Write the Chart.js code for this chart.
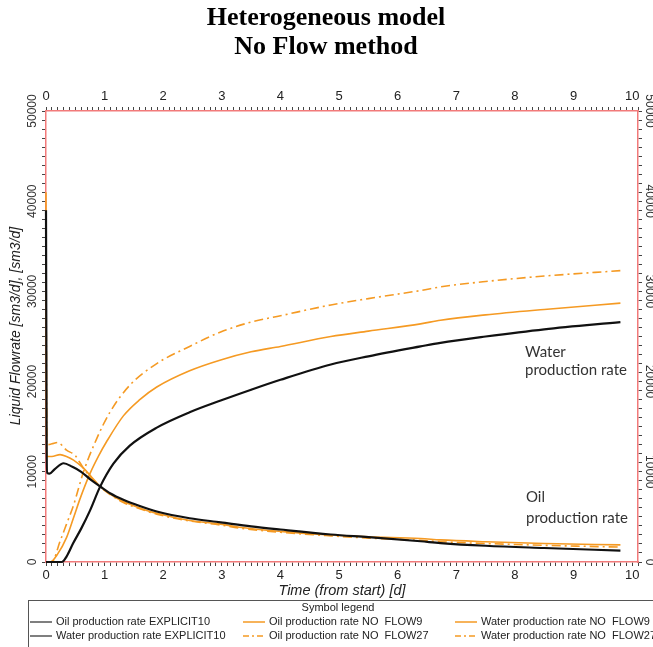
<!DOCTYPE html>
<html>
<head>
<meta charset="utf-8">
<script src="https://cdn.jsdelivr.net/npm/chart.js@4/dist/chart.umd.min.js"></script>
<style>
  body { margin: 0; background: #fff; }
  canvas { display: block; }
</style>
</head>
<body>
<canvas id="chart" width="653" height="647"></canvas>
<script>
// ---- data (time in days, rates in sm3/d) ----
const titleLines = ["Heterogeneous model", "No Flow method"];
const yTicks = [0, 10000, 20000, 30000, 40000, 50000];

const oilExplicitT = [0, 0.01, 0.02, 0.06, 0.15, 0.3, 0.45, 0.6, 0.75, 0.92, 1.1, 1.32, 1.6, 1.89, 2.45, 2.98, 3.5, 4, 4.86, 5.5, 6.39, 6.73, 7.5, 8.5, 9.8];
const oilExplicit  = [39000, 14500, 9900, 9800, 10300, 10950, 10550, 10000, 9200, 8400, 7600, 6900, 6200, 5600, 4850, 4400, 3950, 3600, 3050, 2750, 2300, 2100, 1800, 1550, 1260];

const waterExplicitT = [0, 0.27, 0.35, 0.465, 0.6, 0.75, 0.92, 1.15, 1.43, 1.89, 2.45, 2.98, 3.5, 4, 4.86, 5.5, 6.39, 6.73, 7.5, 8.5, 9.8];
const waterExplicit  = [0, 0, 600, 2100, 3700, 5700, 8300, 10900, 12900, 14900, 16600, 17900, 19100, 20200, 21900, 22800, 23900, 24300, 25000, 25800, 26600];

const oilNF9T = [0, 0.005, 0.015, 0.1, 0.24, 0.35, 0.47, 0.64, 0.78, 0.92, 1.1, 1.32, 1.6, 1.89, 2.45, 2.98, 3.3, 4, 4.86, 5.5, 6.39, 6.73, 7.5, 8.5, 9.8];
const oilNF9  = [41000, 20000, 11700, 11700, 11900, 11700, 11300, 10400, 9400, 8400, 7500, 6700, 6000, 5400, 4600, 4200, 3850, 3400, 3000, 2800, 2600, 2450, 2250, 2050, 1900];

const oilNF27T = [0, 0.005, 0.015, 0.1, 0.2, 0.35, 0.5, 0.58, 0.66, 0.78, 0.92, 1.1, 1.32, 1.6, 1.89, 2.45, 2.98, 3.3, 4, 4.86, 5.5, 6.39, 6.73, 7.5, 8.5, 9.8];
const oilNF27  = [36000, 25000, 13000, 13100, 13250, 12400, 11800, 11000, 10200, 9300, 8350, 7450, 6600, 5900, 5300, 4550, 4100, 3750, 3300, 2900, 2650, 2400, 2250, 2050, 1850, 1650];

const waterNF9T = [0, 0.07, 0.2, 0.35, 0.47, 0.58, 0.75, 0.9, 1.03, 1.32, 1.6, 1.89, 2.45, 2.98, 3.5, 4, 4.86, 5.5, 6.39, 6.73, 7.5, 8.5, 9.8];
const waterNF9  = [0, 0, 900, 2700, 4900, 7000, 9800, 11800, 13300, 16200, 18000, 19400, 21200, 22400, 23300, 23900, 25000, 25600, 26400, 26800, 27400, 28000, 28700];

const waterNF27T = [0, 0.1, 0.24, 0.35, 0.47, 0.64, 0.86, 1.09, 1.43, 1.89, 2.45, 2.98, 3.5, 4, 4.86, 5.5, 6.39, 6.73, 7.5, 8.5, 9.8];
const waterNF27  = [0, 0, 2300, 4200, 6300, 10000, 13600, 16600, 19600, 22000, 23900, 25500, 26600, 27300, 28500, 29200, 30100, 30500, 31100, 31700, 32300];

const seriesNames = [
  "Oil production rate EXPLICIT10",
  "Water production rate EXPLICIT10",
  "Oil production rate NO  FLOW9",
  "Oil production rate NO  FLOW27",
  "Water production rate NO  FLOW9",
  "Water production rate NO  FLOW27"
];

const BLACK = "#111111";
const ORANGE = "#f59a23";
const DASHDOT = [9, 4, 2, 4];

function pts(t, v) {
  return t.map((x, i) => ({ x: x, y: v[i] }));
}

function series(label, t, v, color, width, dash) {
  return {
    label: label,
    data: pts(t, v),
    borderColor: color,
    backgroundColor: color,
    borderWidth: width,
    borderDash: dash || [],
    pointRadius: 0,
    cubicInterpolationMode: "monotone",
    clip: false,
    fill: false
  };
}

// ---- text, axis labels and the boxed legend ----
const textPlugin = {
  id: "texts",
  afterDraw(chart) {
    const ctx = chart.ctx;
    const ys = chart.scales.y;
    ctx.save();
    ctx.textAlign = "center";
    ctx.textBaseline = "middle";

    ctx.fillStyle = "#000";
    ctx.font = 'bold 26px "Liberation Serif"';
    ctx.fillText(titleLines[0], 326, 18);
    ctx.fillText(titleLines[1], 326, 47);

    ctx.fillStyle = "#333";
    ctx.font = '12px "Liberation Sans"';
    yTicks.forEach(v => {
      const py = ys.getPixelForValue(v);
      ctx.save();
      ctx.translate(33, py);
      ctx.rotate(-Math.PI / 2);
      ctx.fillText(String(v), 0, 0);
      ctx.restore();
      ctx.save();
      ctx.translate(649, py);
      ctx.rotate(Math.PI / 2);
      ctx.fillText(String(v), 0, 0);
      ctx.restore();
    });

    ctx.fillStyle = "#222";
    ctx.font = 'italic 14px "Liberation Sans"';
    ctx.save();
    ctx.translate(16, 326);
    ctx.rotate(-Math.PI / 2);
    ctx.fillText("Liquid Flowrate [sm3/d], [sm3/d]", 0, 0);
    ctx.restore();
    ctx.font = 'italic 14.5px "Liberation Sans"';
    ctx.fillText("Time (from start) [d]", 342, 591);

    // annotations
    ctx.textAlign = "left";
    ctx.fillStyle = "#333";
    ctx.font = '15px "Lato"';
    ctx.fillText("Water", 525, 352);
    ctx.fillText("production rate", 525, 370);
    ctx.fillText("Oil", 526, 497);
    ctx.fillText("production rate", 526, 518);

    // legend box
    ctx.strokeStyle = "#555";
    ctx.lineWidth = 1;
    ctx.strokeRect(28.5, 600.5, 660, 60);
    ctx.fillStyle = "#222";
    ctx.font = '11px "Liberation Sans"';
    ctx.textAlign = "center";
    ctx.fillText("Symbol legend", 338, 608);
    ctx.textAlign = "left";
    const cols = [30, 243, 455];
    const rows = [622, 636];
    const dsets = chart.data.datasets;
    dsets.forEach((d, i) => {
      const cx = cols[Math.floor(i / 2)];
      const cy = rows[i % 2];
      ctx.save();
      ctx.strokeStyle = i < 2 ? "#555" : d.borderColor;
      ctx.lineWidth = 1.5;
      ctx.setLineDash(d.borderDash.length ? [6, 3, 2, 3] : []);
      ctx.beginPath();
      ctx.moveTo(cx, cy);
      ctx.lineTo(cx + 22, cy);
      ctx.stroke();
      ctx.restore();
      ctx.fillText(d.label, cx + 26, cy);
    });
    ctx.restore();
  }
};

function tickGrid() {
  return { display: true, drawOnChartArea: false, drawTicks: true, tickLength: 4, color: "#444", lineWidth: 1 };
}
const frame = { display: true, color: "#f27a7a", width: 1.5 };
const intLabel = v => Math.abs(v - Math.round(v)) < 1e-6 ? String(Math.round(v)) : "";

const ctx = document.getElementById("chart").getContext("2d");
new Chart(ctx, {
  type: "line",
  data: {
    datasets: [
      series(seriesNames[0], oilExplicitT, oilExplicit, BLACK, 2.2),
      series(seriesNames[1], waterExplicitT, waterExplicit, BLACK, 2.2),
      series(seriesNames[2], oilNF9T, oilNF9, ORANGE, 1.6),
      series(seriesNames[3], oilNF27T, oilNF27, ORANGE, 1.6, DASHDOT),
      series(seriesNames[4], waterNF9T, waterNF9, ORANGE, 1.6),
      series(seriesNames[5], waterNF27T, waterNF27, ORANGE, 1.6, DASHDOT)
    ]
  },
  options: {
    responsive: false,
    animation: false,
    layout: { padding: 0 },
    plugins: {
      legend: { display: false },
      title: { display: false },
      tooltip: { enabled: false }
    },
    scales: {
      x: {
        type: "linear", position: "bottom", min: 0, max: 10.1,
        afterFit: s => { s.height = 85; },
        grid: tickGrid(), border: frame,
        ticks: {
          stepSize: 0.1, autoSkip: false, maxRotation: 0, padding: 2,
          color: "#222", font: { family: "Liberation Sans", size: 13 },
          callback: intLabel
        }
      },
      x2: {
        type: "linear", position: "top", min: 0, max: 10.1,
        afterFit: s => { s.height = 111; },
        grid: tickGrid(), border: frame,
        ticks: {
          stepSize: 0.1, autoSkip: false, maxRotation: 0, padding: 3,
          color: "#222", font: { family: "Liberation Sans", size: 13 },
          callback: intLabel
        }
      },
      y: {
        type: "linear", position: "left", min: 0, max: 50000,
        afterFit: s => { s.width = 46; },
        grid: tickGrid(), border: frame,
        ticks: { stepSize: 1000, display: false }
      },
      y2: {
        type: "linear", position: "right", min: 0, max: 50000,
        afterFit: s => { s.width = 15; },
        grid: tickGrid(), border: frame,
        ticks: { stepSize: 1000, display: false }
      }
    }
  },
  plugins: [textPlugin]
});
</script>
</body>
</html>
